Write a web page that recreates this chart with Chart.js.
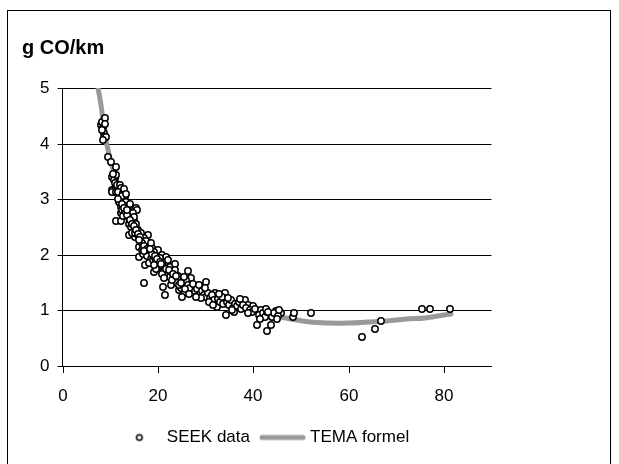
<!DOCTYPE html>
<html>
<head>
<meta charset="utf-8">
<title>g CO/km</title>
<script src="https://cdn.jsdelivr.net/npm/chart.js@4.4.1/dist/chart.umd.min.js"></script>
<style>
  html, body { margin: 0; padding: 0; background: #fff; }
  #chart { display: block; }
</style>
</head>
<body>
<canvas id="chart" width="619" height="464"></canvas>
<script>
// SEEK data (speed km/h, g CO/km)
const seekX = [
  8.0, 8.3, 8.5, 8.7, 8.7, 9.0, 9.2, 8.5, 8.9, 8.2,
  9.5, 10.1, 11.3, 10.4, 11.1, 10.8, 11.3, 10.3, 10.8, 11.1, 10.6, 11.0, 10.4, 11.3, 11.5,
  12.0, 12.2, 11.7, 12.6, 13.1, 12.2, 12.9, 12.2, 13.4, 12.2, 11.3, 12.2, 12.5, 12.8, 13.0, 11.8, 12.4, 13.3, 11.6, 12.7,
  14.0, 14.7, 15.0, 14.0, 15.2, 15.4, 15.6, 13.8, 14.3, 14.5, 14.8, 15.1, 13.9, 14.4, 15.5, 15.8, 14.6, 15.3, 13.7, 14.2, 15.9, 14.9,
  16.3, 17.9, 16.1, 16.6, 17.5, 18.7, 16.1, 17.3, 17.1, 16.5, 17.0, 17.4, 18.0, 18.3, 16.8, 17.8, 18.5, 16.4, 17.2, 18.9, 18.2, 17.6, 16.9, 18.6, 19.0,
  20.0, 20.9, 21.7, 19.1, 20.0, 21.0, 21.0, 21.6, 22.8, 19.5, 19.8, 20.3, 20.6, 21.2, 21.5, 22.0, 22.3, 22.6, 19.3, 20.5, 21.9, 22.5, 19.6, 20.8, 22.2, 21.3,
  23.5, 26.4, 27.0, 24.4, 25.1, 24.9, 27.6, 23.2, 23.8, 24.2, 24.7, 25.2, 25.6, 26.0, 26.3, 23.6, 24.0, 25.4, 26.8, 27.3, 27.8, 23.0, 25.8, 26.6, 24.5,
  30.2, 32.0, 34.1, 33.8, 32.4, 28.3, 28.8, 29.2, 29.6, 30.0, 30.5, 31.0, 31.4, 31.8, 32.6, 33.0, 33.4, 28.6, 29.8, 30.8, 31.6, 29.0, 32.9, 33.6, 28.1,
  34.3, 38.2, 39.0, 40.0, 40.8, 34.6, 35.0, 35.4, 35.8, 36.2, 36.6, 37.0, 37.4, 37.8, 38.6, 39.4, 39.8, 40.4, 34.8, 36.0, 37.2, 38.9, 35.6,
  43.0, 43.7, 41.7, 43.5, 44.7, 45.8, 41.2, 42.0, 42.4, 42.8, 44.0, 44.4, 45.2, 45.5, 41.5, 42.6, 44.9, 43.2,
  48.3, 48.6, 52.2, 62.8, 65.6, 66.8, 75.5, 77.0, 81.2,
  13.2, 13.6, 14.1, 14.5, 15.0, 15.4, 15.9, 16.2, 16.7, 17.1, 17.7, 18.1, 18.8, 19.4, 19.9, 20.4, 21.1, 21.8, 22.4, 23.1,
  12.4, 12.9, 13.5, 16.0, 17.0, 18.4, 19.2, 20.7, 23.9, 24.8
];
const seekY = [
  4.33, 4.39, 4.28, 4.19, 4.12, 4.46, 4.12, 4.06, 4.36, 4.25,
  3.76, 3.67, 3.58, 3.40, 3.38, 3.35, 3.43, 3.17, 3.13, 3.17, 3.45, 3.30, 3.13, 3.13, 3.25,
  3.26, 3.20, 3.13, 3.11, 3.04, 2.99, 2.93, 2.86, 2.95, 2.75, 2.61, 2.61, 3.05, 3.18, 2.88, 2.95, 2.80, 3.10, 3.00, 2.70,
  2.66, 2.57, 2.48, 2.36, 2.32, 2.84, 2.80, 2.75, 2.70, 2.62, 2.75, 2.60, 2.55, 2.50, 2.55, 2.45, 2.40, 2.40, 2.85, 2.92, 2.35, 2.68,
  2.30, 2.36, 2.14, 2.09, 2.03, 2.12, 1.96, 1.82, 1.49, 2.25, 2.20, 2.15, 2.18, 2.05, 2.02, 1.98, 1.92, 2.40, 2.30, 2.00, 1.85, 2.25, 2.12, 2.22, 1.90,
  2.09, 2.00, 1.96, 1.69, 1.78, 1.69, 1.42, 1.28, 1.46, 1.95, 1.85, 1.90, 1.80, 1.85, 1.75, 1.82, 1.70, 1.78, 2.05, 1.95, 1.62, 1.60, 1.75, 1.65, 1.90, 1.58,
  1.83, 1.71, 1.58, 1.37, 1.24, 1.40, 1.42, 1.65, 1.58, 1.62, 1.55, 1.52, 1.48, 1.55, 1.45, 1.72, 1.50, 1.60, 1.40, 1.48, 1.35, 1.55, 1.38, 1.30, 1.45,
  1.51, 1.31, 1.31, 1.22, 1.06, 1.38, 1.30, 1.35, 1.28, 1.25, 1.32, 1.22, 1.28, 1.18, 1.20, 1.15, 1.25, 1.45, 1.40, 1.15, 1.10, 1.22, 1.30, 1.12, 1.25,
  0.92, 1.19, 1.10, 1.08, 0.74, 1.15, 1.10, 1.18, 1.05, 1.12, 1.08, 1.15, 1.02, 1.10, 1.05, 1.00, 0.98, 1.02, 1.22, 0.98, 1.20, 0.95, 1.00,
  0.63, 0.74, 1.00, 0.92, 0.99, 0.95, 0.92, 0.95, 0.88, 0.98, 0.88, 0.95, 0.90, 1.00, 0.85, 1.02, 0.85, 0.97,
  0.88, 0.96, 0.95, 0.52, 0.67, 0.81, 1.03, 1.03, 1.03,
  2.78, 2.72, 2.62, 2.55, 2.52, 2.45, 2.38, 2.32, 2.22, 2.16, 2.10, 2.08, 2.02, 1.98, 1.93, 1.87, 1.80, 1.74, 1.72, 1.66,
  2.92, 2.85, 2.80, 2.26, 2.06, 2.10, 1.82, 1.84, 1.62, 1.50
];

// TEMA formel curve
const temaX = [7.5, 8, 9, 10, 11, 12, 13, 14, 15, 16, 18, 20, 22, 24, 26, 28, 30, 33, 36, 40, 44, 48, 52, 56, 60, 64, 68, 72, 76, 80, 81.5];
const temaY = [5.0, 4.7, 4.15, 3.75, 3.42, 3.15, 2.92, 2.73, 2.56, 2.42, 2.17, 1.96, 1.79, 1.65, 1.53, 1.42, 1.33, 1.21, 1.11, 1.0, 0.91, 0.84, 0.8, 0.78, 0.78, 0.79, 0.81, 0.84, 0.87, 0.91, 0.94];

const xTicks = [0, 20, 40, 60, 80];
const yTicks = [0, 1, 2, 3, 4, 5];

const FONT = "'Liberation Sans', Arial, sans-serif";

function makeCircleIcon() {
  const c = document.createElement("canvas");
  c.width = 10;
  c.height = 10;
  const g = c.getContext("2d");
  g.beginPath();
  g.arc(5, 5, 2.8, 0, Math.PI * 2);
  g.fillStyle = "#fff";
  g.fill();
  g.lineWidth = 1.5;
  g.strokeStyle = "#000";
  g.stroke();
  return c;
}

function makeLineIcon() {
  const c = document.createElement("canvas");
  c.width = 47;
  c.height = 8;
  const g = c.getContext("2d");
  g.beginPath();
  g.moveTo(3, 4);
  g.lineTo(44, 4);
  g.lineWidth = 5;
  g.lineCap = "round";
  g.strokeStyle = "#999999";
  g.stroke();
  return c;
}

const legendIcons = [makeCircleIcon(), makeLineIcon()];

// outer frame of the chart, plus a small nudge of the legend row
const frame = {
  id: "frame",
  afterLayout(chart) {
    chart.legend.left += 8;
    chart.legend.right += 8;
  },
  beforeDraw(chart) {
    const ctx = chart.ctx;
    ctx.save();
    ctx.fillStyle = "#fff";
    ctx.fillRect(0, 0, chart.width, chart.height);
    ctx.strokeStyle = "#000";
    ctx.lineWidth = 1;
    ctx.strokeRect(7.5, 10.5, 603, 500);
    ctx.restore();
  },
};

Chart.defaults.color = "#000";
Chart.defaults.font.family = FONT;
Chart.defaults.font.size = 17;

new Chart(document.getElementById("chart"), {
  data: {
    datasets: [
      {
        type: "scatter",
        label: "SEEK data",
        data: seekX.map((x, i) => ({ x, y: seekY[i] })),
        pointRadius: 3.2,
        pointHoverRadius: 3.2,
        borderWidth: 1.5,
        borderColor: "#000",
        backgroundColor: "#fff",
      },
      {
        type: "line",
        label: "TEMA formel",
        data: temaX.map((x, i) => ({ x, y: temaY[i] })),
        borderColor: "#999999",
        backgroundColor: "#999999",
        borderWidth: 5,
        borderCapStyle: "round",
        pointRadius: 0,
        tension: 0.4,
        fill: false,
      },
    ],
  },
  options: {
    responsive: false,
    devicePixelRatio: 1,
    animation: false,
    layout: { padding: { left: 22, right: 127.5, top: 36, bottom: 8 } },
    plugins: {
      title: {
        display: true,
        text: "g CO/km",
        align: "start",
        font: { size: 20, weight: "bold" },
        padding: { top: 0, bottom: 28 },
      },
      legend: {
        position: "bottom",
        labels: {
          usePointStyle: true,
          pointStyleWidth: 38,
          padding: 13.5,
          font: { size: 17 },
          generateLabels(chart) {
            const items = Chart.defaults.plugins.legend.labels.generateLabels(chart);
            items.forEach((item, i) => { item.pointStyle = legendIcons[i]; });
            return items;
          },
        },
      },
      tooltip: { enabled: false },
    },
    scales: {
      x: {
        type: "linear",
        min: 0,
        max: 90,
        alignToPixels: true,
        afterFit(scale) { scale.height = 49.5; },
        afterBuildTicks(scale) { scale.ticks = xTicks.map((v) => ({ value: v })); },
        ticks: { padding: 13, font: { size: 17 } },
        grid: { drawOnChartArea: false, drawTicks: true, tickLength: 7, tickColor: "#000" },
        border: { display: true, color: "#000", width: 1 },
      },
      y: {
        type: "linear",
        min: 0,
        max: 5,
        alignToPixels: true,
        afterFit(scale) { scale.width = 40.5; },
        afterBuildTicks(scale) { scale.ticks = yTicks.map((v) => ({ value: v })); },
        ticks: { padding: 8, font: { size: 17 } },
        grid: { color: "#000", lineWidth: 1, tickLength: 5, tickColor: "#000" },
        border: { display: true, color: "#000", width: 1 },
      },
    },
  },
  plugins: [frame],
});
</script>
</body>
</html>
